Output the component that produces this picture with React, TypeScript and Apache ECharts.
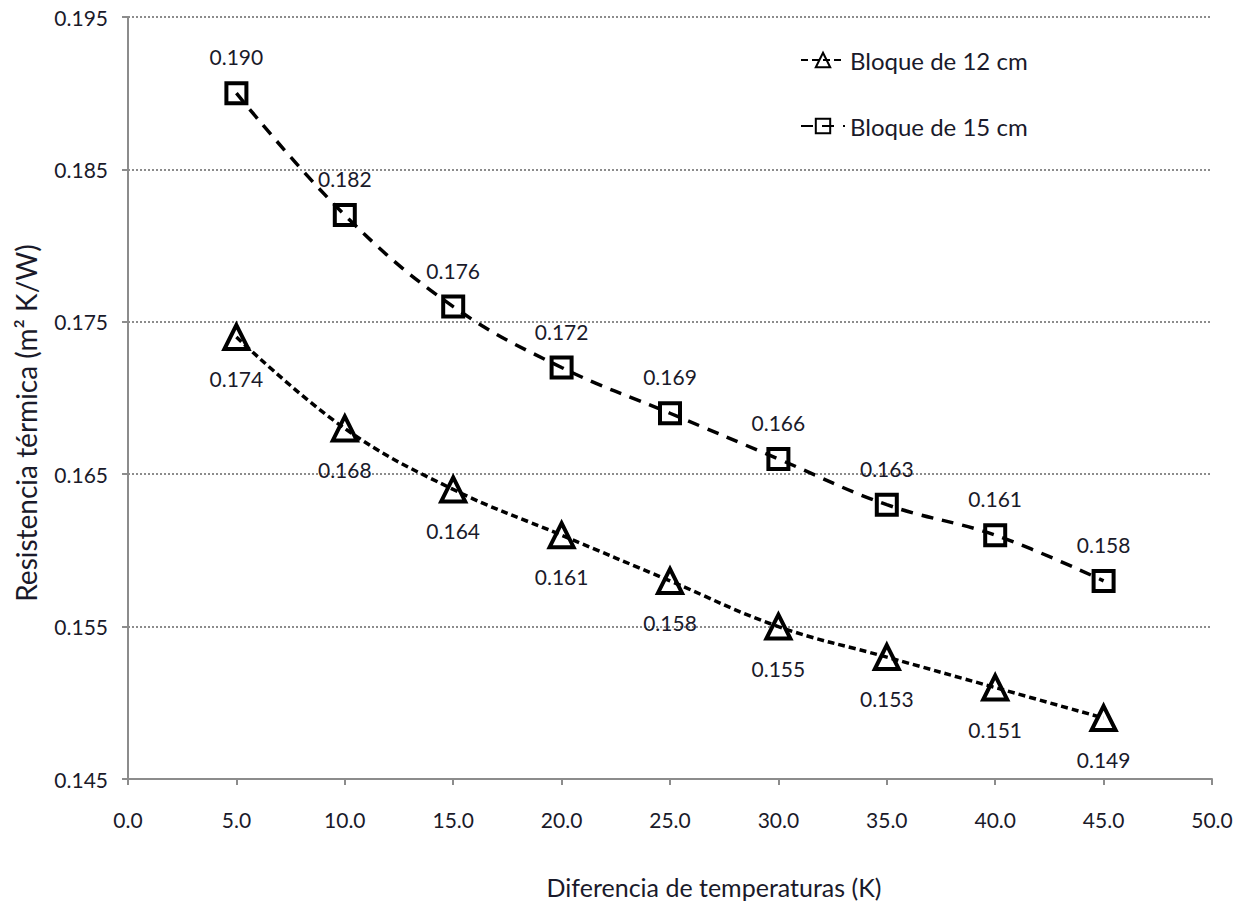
import React, { useEffect, useRef } from "react";
import * as echarts from "echarts";

const xValues = [5, 10, 15, 20, 25, 30, 35, 40, 45];
const bloque12 = [0.174, 0.168, 0.164, 0.161, 0.158, 0.155, 0.153, 0.151, 0.149];
const bloque15 = [0.19, 0.182, 0.176, 0.172, 0.169, 0.166, 0.163, 0.161, 0.158];
const seriesNames = ["Bloque de 12 cm", "Bloque de 15 cm"];

const FONT = "Lato, 'Open Sans', sans-serif";
const TEXT = "#1a1a2a";

export default function App() {
  const ref = useRef<HTMLDivElement>(null);
  useEffect(() => {
    if (!ref.current) return;
    const chart = echarts.init(ref.current, undefined, { renderer: "svg" });
    chart.setOption({
      animation: false,
      backgroundColor: "#ffffff",
      textStyle: { fontFamily: FONT },
      grid: { left: 128, right: 38, top: 17, bottom: 126, outerBoundsMode: "none", containLabel: false },
      legend: {
        orient: "vertical",
        left: 795,
        top: 43,
        itemGap: 42,
        itemWidth: 44,
        itemHeight: 18,
        textStyle: { fontFamily: FONT, fontSize: 24, color: TEXT },
        data: seriesNames,
      },
      xAxis: {
        type: "value",
        min: 0,
        max: 50,
        interval: 5,
        name: "Diferencia de temperaturas (K)",
        nameLocation: "middle",
        nameGap: 95,
        nameTextStyle: { fontFamily: FONT, fontSize: 25, color: TEXT, padding: [0, 0, 0, 88] },
        axisLine: { lineStyle: { color: "#8c8c8c", width: 2 } },
        axisTick: { show: true, length: 6, inside: false, lineStyle: { color: "#8c8c8c", width: 2 } },
        axisLabel: {
          margin: 30,
          fontSize: 21,
          color: TEXT,
          fontFamily: FONT,
          formatter: (v: number) => v.toFixed(1),
        },
        splitLine: { show: false },
      },
      yAxis: {
        type: "value",
        min: 0.145,
        max: 0.195,
        interval: 0.01,
        name: "Resistencia térmica (m² K/W)",
        nameLocation: "middle",
        nameGap: 88,
        nameTextStyle: { fontFamily: FONT, fontSize: 28, color: TEXT, padding: [0, 50, 0, 0] },
        axisLine: { show: true, lineStyle: { color: "#8c8c8c", width: 2 } },
        axisTick: { show: true, length: 6, lineStyle: { color: "#8c8c8c", width: 2 } },
        axisLabel: {
          margin: 20,
          fontSize: 21,
          color: TEXT,
          fontFamily: FONT,
          formatter: (v: number) => v.toFixed(3),
        },
        splitLine: {
          show: true,
          lineStyle: { color: "#8c8c8c", type: [2, 2], width: 2 },
        },
      },
      series: [
        {
          name: seriesNames[0],
          type: "line",
          smooth: 0.4,
          data: xValues.map((x, i) => [x, bloque12[i]]),
          symbol: "triangle",
          symbolSize: 24,
          lineStyle: { color: "#000", width: 3.5, type: [7, 4] },
          itemStyle: { color: "rgba(255,255,255,0)", borderColor: "#000", borderWidth: 4 },
          label: {
            show: true,
            position: "bottom",
            distance: 17,
            fontSize: 21,
            color: TEXT,
            fontFamily: FONT,
            formatter: (p: any) => p.value[1].toFixed(3),
          },
          z: 3,
        },
        {
          name: seriesNames[1],
          type: "line",
          smooth: 0.4,
          data: xValues.map((x, i) => [x, bloque15[i]]),
          symbol: "rect",
          symbolSize: 20,
          lineStyle: { color: "#000", width: 3.5, type: [12, 9] },
          itemStyle: { color: "rgba(255,255,255,0)", borderColor: "#000", borderWidth: 4 },
          label: {
            show: true,
            position: "top",
            distance: 14,
            fontSize: 21,
            color: TEXT,
            fontFamily: FONT,
            formatter: (p: any) => p.value[1].toFixed(3),
          },
          z: 3,
        },
      ],
    });
    return () => chart.dispose();
  }, []);
  return (
    <div
      ref={ref}
      style={{ position: "fixed", left: 0, top: 0, width: 1250, height: 905, background: "#fff" }}
    />
  );
}
